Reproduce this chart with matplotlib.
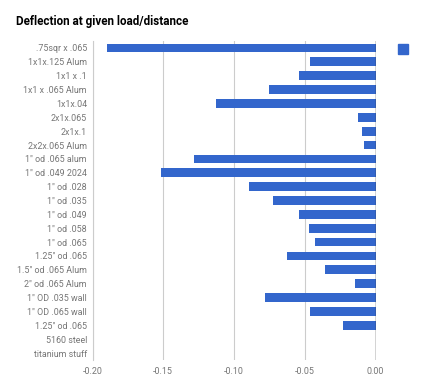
import matplotlib
matplotlib.use("Agg")
from matplotlib import pyplot as plt
from matplotlib.patches import Patch

plt.rcParams['font.family'] = ['Roboto', 'DejaVu Sans']

# categories from top to bottom
labels = ['.75sqr x .065', '1x1x.125 Alum', '1x1 x .1', '1x1 x .065 Alum', '1x1x.04',
          '2x1x.065', '2x1x.1', '2x2x.065 Alum', '1" od .065 alum', '1" od .049 2024',
          '1" od .028', '1" od .035', '1" od .049', '1" od .058', '1" od .065',
          '1.25" od .065', '1.5" od .065 Alum', '2" od .065 Alum', '1" OD .035 wall',
          '1" OD .065 wall', '1.25" od .065', '5160 steel', 'titanium stuff']
deflection = [-0.190, -0.0465, -0.0543, -0.075, -0.1127,
              -0.0121, -0.0098, -0.0084, -0.128, -0.1516,
              -0.0892, -0.0724, -0.0543, -0.047, -0.043,
              -0.0628, -0.0355, -0.0145, -0.078,
              -0.046, -0.0228, 0.0, 0.0]
xticks = [-0.20, -0.15, -0.10, -0.05, 0.00]

fig = plt.figure(figsize=(4.33, 3.81), dpi=100)
ax = fig.add_axes([92.5 / 433, 1 - 360 / 381, 283 / 433, 319 / 381])

ypos = list(range(len(labels)))
ax.barh(ypos, deflection, height=0.63, color='#3366cc', zorder=3)
ax.set_ylim(len(labels) - 0.5, -0.5)
ax.set_xlim(-0.2, 0.0)
ax.set_yticks(ypos)
ax.set_yticklabels(labels)
ax.set_xticks(xticks)
ax.set_xticklabels(['%.2f' % t for t in xticks])
ax.tick_params(length=0, labelsize=6.4, labelcolor='#757575')
ax.tick_params(axis='y', pad=4)
ax.tick_params(axis='x', pad=5)
ax.grid(axis='x', color='#cccccc', linewidth=0.8, zorder=0)
for s in ['top', 'right', 'bottom']:
    ax.spines[s].set_visible(False)
ax.spines['left'].set_color('#cccccc')
ax.axvline(0, color='#333333', linewidth=1, zorder=4)

fig.legend(handles=[Patch(color='#3366cc')], labels=[''], loc='upper left',
           bbox_to_anchor=(398 / 433, 1 - 43 / 381), frameon=False,
           borderpad=0, borderaxespad=0,
           handlelength=0.75, handleheight=0.75, handletextpad=0)

fig.text(16 / 433, 1 - 21 / 381, 'Deflection at given load/distance',
         fontsize=8.4, fontweight='bold', color='#000000', va='center')

fig.savefig('out.png', dpi=100)
